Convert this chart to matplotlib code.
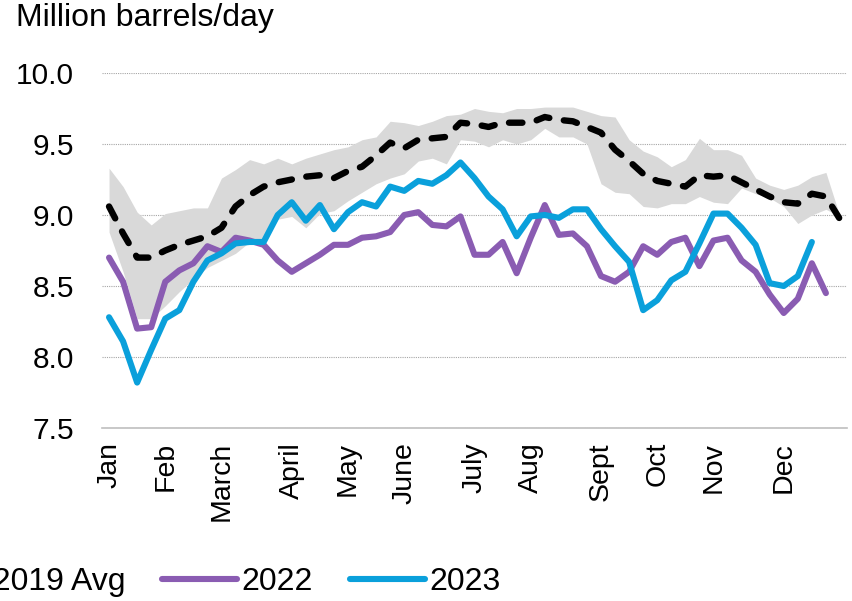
import numpy as np
import matplotlib
matplotlib.use("Agg")
import matplotlib.pyplot as plt
from matplotlib.patches import Patch
from matplotlib.lines import Line2D

plt.rcParams['font.family'] = ['Liberation Sans', 'DejaVu Sans']

# weekly values, million barrels/day (week 1..53)
range_hi = [9.33, 9.20, 9.02, 8.93, 9.01, 9.03, 9.05, 9.05, 9.26, 9.32,
            9.39, 9.36, 9.40, 9.36, 9.40, 9.43, 9.46, 9.48, 9.53, 9.55,
            9.66, 9.65, 9.63, 9.66, 9.70, 9.71, 9.75, 9.73, 9.72, 9.75,
            9.75, 9.76, 9.76, 9.76, 9.73, 9.70, 9.69, 9.53, 9.45, 9.41,
            9.34, 9.39, 9.54, 9.46, 9.46, 9.42, 9.26, 9.21, 9.18, 9.21,
            9.27, 9.30, 8.99]
range_lo = [8.88, 8.60, 8.27, 8.27, 8.36, 8.46, 8.55, 8.63, 8.68, 8.73,
            8.81, 8.81, 8.97, 8.99, 8.91, 9.01, 9.03, 9.10, 9.16, 9.22,
            9.26, 9.29, 9.38, 9.40, 9.36, 9.53, 9.52, 9.48, 9.53, 9.50,
            9.53, 9.61, 9.55, 9.55, 9.50, 9.22, 9.16, 9.15, 9.06, 9.05,
            9.08, 9.08, 9.13, 9.09, 9.08, 9.19, 9.15, 9.12, 9.06, 8.94,
            9.00, 9.04, 8.99]
avg_15_19 = [9.06, 8.87, 8.70, 8.70, 8.75, 8.79, 8.82, 8.85, 8.91, 9.06,
             9.14, 9.20, 9.23, 9.25, 9.27, 9.28, 9.26, 9.31, 9.34, 9.42,
             9.51, 9.47, 9.53, 9.54, 9.55, 9.65, 9.64, 9.62, 9.65, 9.65,
             9.65, 9.69, 9.67, 9.66, 9.62, 9.58, 9.46, 9.38, 9.29, 9.24,
             9.22, 9.20, 9.28, 9.27, 9.28, 9.23, 9.18, 9.13, 9.09, 9.08,
             9.15, 9.13, 8.97]
y2022 = [8.70, 8.53, 8.20, 8.21, 8.53, 8.61, 8.66, 8.78, 8.74, 8.84,
         8.82, 8.79, 8.68, 8.60, 8.66, 8.72, 8.79, 8.79, 8.84, 8.85,
         8.88, 9.00, 9.02, 8.93, 8.92, 8.99, 8.72, 8.72, 8.81, 8.59,
         8.84, 9.07, 8.86, 8.87, 8.78, 8.57, 8.53, 8.60, 8.78, 8.72,
         8.81, 8.84, 8.64, 8.82, 8.84, 8.68, 8.60, 8.44, 8.31, 8.41,
         8.66, 8.45]
y2023 = [8.28, 8.11, 7.82, 8.05, 8.27, 8.33, 8.53, 8.68, 8.73, 8.80,
         8.81, 8.81, 9.00, 9.09, 8.96, 9.07, 8.90, 9.02, 9.09, 9.06,
         9.20, 9.17, 9.24, 9.22, 9.28, 9.37, 9.26, 9.13, 9.04, 8.85,
         8.99, 9.00, 8.98, 9.04, 9.04, 8.90, 8.78, 8.67, 8.33, 8.40,
         8.54, 8.60, 8.80, 9.01, 9.01, 8.91, 8.79, 8.52, 8.50, 8.57,
         8.81]

month_labels = ['Jan', 'Feb', 'March', 'April', 'May', 'June', 'July',
                'Aug', 'Sept', 'Oct', 'Nov', 'Dec']
month_week = [0, 4, 8, 13, 17, 21, 26, 30, 35, 39, 43, 48]

c_range = '#d9d9d9'
c_2022 = '#8a5cb2'
c_2023 = '#0aa0db'

fig = plt.figure(figsize=(8.53, 6.01), dpi=100)
ax = fig.add_axes([102/853, 1-428/601, 745/853, 355/601])

weeks = np.arange(len(avg_15_19))
ax.fill_between(weeks, range_lo, range_hi, color=c_range, lw=0, zorder=1)
ax.plot(weeks, avg_15_19, color='black', lw=4.6, dashes=(2.1, 2.3),
        dash_capstyle='round', solid_joinstyle='round', zorder=3)
ax.plot(np.arange(len(y2022)), y2022, color=c_2022, lw=4.4,
        solid_joinstyle='round', solid_capstyle='round', zorder=4)
ax.plot(np.arange(len(y2023)), y2023, color=c_2023, lw=4.4,
        solid_joinstyle='round', solid_capstyle='round', zorder=5)

ax.set_xlim(-0.5, len(weeks) - 0.5)
ax.set_ylim(7.5, 10.0)
ax.set_yticks([7.5, 8.0, 8.5, 9.0, 9.5, 10.0])
ax.set_yticklabels(['%.1f' % v for v in [7.5, 8.0, 8.5, 9.0, 9.5, 10.0]])
ax.set_xticks(month_week)
ax.set_xticklabels(month_labels, rotation=90)
ax.tick_params(axis='y', length=0, pad=20, labelsize=21.5)
ax.tick_params(axis='x', length=0, pad=10, labelsize=20.5)

ax.yaxis.grid(True, linestyle=(0, (1, 1)), color='#a6a6a6', lw=0.8)
ax.set_axisbelow(True)
for s in ['top', 'right', 'left']:
    ax.spines[s].set_visible(False)
ax.spines['bottom'].set_color('#bfbfbf')
ax.spines['bottom'].set_linewidth(1.2)

fig.text(16/853, 1-3/601, 'Million barrels/day', fontsize=23,
         ha='left', va='top')

handles = [Patch(facecolor=c_range, edgecolor='none'),
           Line2D([], [], color='black', lw=4.6, dashes=(2.1, 2.3),
                  dash_capstyle='round'),
           Line2D([], [], color=c_2022, lw=4.4, solid_capstyle='round'),
           Line2D([], [], color=c_2023, lw=4.4, solid_capstyle='round')]
labels = ['2015-2019 Range', '2015-2019 Avg', '2022', '2023']
fig.legend(handles, labels, loc='center right',
           bbox_to_anchor=(501/853, 1-582/601), ncol=4, frameon=False,
           fontsize=23, handlelength=2.35, handletextpad=0.15,
           columnspacing=1.15, borderpad=0, borderaxespad=0)

fig.savefig('out.png', dpi=100)
